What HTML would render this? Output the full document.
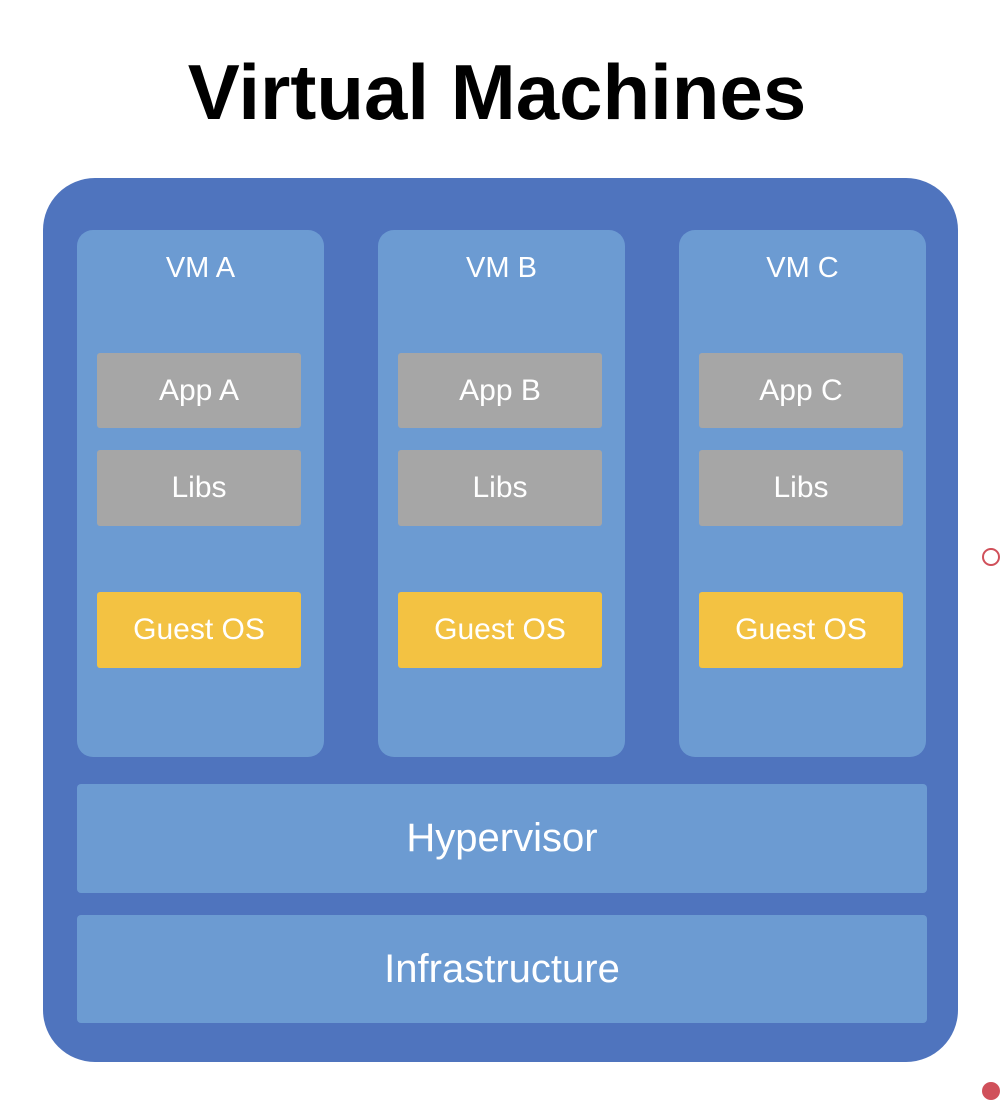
<!DOCTYPE html>
<html><head><meta charset="utf-8"><style>
body{margin:0;width:1006px;height:1096px;background:#fff;position:relative;overflow:hidden;font-family:"Liberation Sans","DejaVu Sans",sans-serif}
div{position:absolute;box-sizing:border-box}
.t{display:flex;align-items:center;justify-content:center;color:#fff}
.vm{background:#6C9BD2;border-radius:16px;top:230px;height:527px;width:247px}
.vm .lbl{position:absolute;top:22px;left:0;right:0;text-align:center;color:#fff;font-size:29px}
.g{background:#A6A6A6;border-radius:3px;left:20px;width:204px;font-size:30px}
.y{background:#F3C242;border-radius:3px;left:20px;width:204px;font-size:30px;top:362px;height:76px}
.bar{background:#6C9BD2;border-radius:4px;left:77px;width:850px;font-size:40px}
</style></head><body>
<div style="left:0;width:1006px;top:42px;text-align:center;font-size:78px;font-weight:bold;color:#000;line-height:100px;padding-right:12px">Virtual Machines</div>
<div style="left:43px;top:178px;width:915px;height:884px;background:#4F74BE;border-radius:52px"></div>
<div class="vm" style="left:77px"><div class="lbl">VM A</div>
<div class="g t" style="top:123px;height:75px">App A</div>
<div class="g t" style="top:220px;height:76px">Libs</div>
<div class="y t">Guest OS</div></div>
<div class="vm" style="left:378px"><div class="lbl">VM B</div>
<div class="g t" style="top:123px;height:75px">App B</div>
<div class="g t" style="top:220px;height:76px">Libs</div>
<div class="y t">Guest OS</div></div>
<div class="vm" style="left:679px"><div class="lbl">VM C</div>
<div class="g t" style="top:123px;height:75px">App C</div>
<div class="g t" style="top:220px;height:76px">Libs</div>
<div class="y t">Guest OS</div></div>
<div class="bar t" style="top:784px;height:109px">Hypervisor</div>
<div class="bar t" style="top:915px;height:108px">Infrastructure</div>
<div style="left:982px;top:548px;width:18px;height:18px;border:2px solid #D0505A;border-radius:50%"></div>
<div style="left:982px;top:1082px;width:18px;height:18px;background:#D0505A;border-radius:50%"></div>
</body></html>
